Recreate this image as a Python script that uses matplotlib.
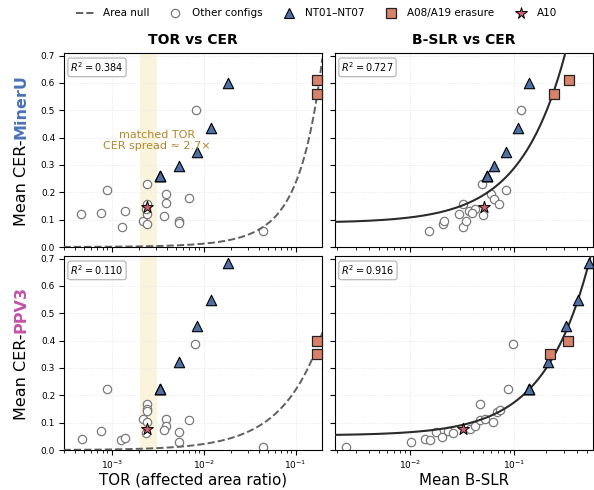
import numpy as np
import matplotlib
matplotlib.use("Agg")
from matplotlib import pyplot as plt
from matplotlib.lines import Line2D

# ---- data ----
# other configs, MinerU
oth_tor_mu = [4.7e-4, 7.6e-4, 8.9e-4, 1.38e-3, 1.29e-3, 2.21e-3, 2.4e-3, 2.4e-3, 2.4e-3,
              2.4e-3, 2.35e-3, 3.87e-3, 3.87e-3, 3.7e-3, 5.4e-3, 5.4e-3, 7.0e-3, 8.2e-3, 0.0438]
oth_cer_tor_mu = [0.122, 0.124, 0.209, 0.131, 0.073, 0.094, 0.229, 0.158, 0.119,
                  0.085, 0.14, 0.194, 0.16, 0.112, 0.094, 0.086, 0.18, 0.499, 0.058]
oth_bslr_mu = [0.0151, 0.0206, 0.0213, 0.0318, 0.0297, 0.032, 0.0344, 0.0368, 0.0414,
               0.039, 0.0487, 0.050, 0.0595, 0.064, 0.0705, 0.083, 0.1167]
oth_cer_bslr_mu = [0.058, 0.085, 0.094, 0.073, 0.119, 0.158, 0.094, 0.131, 0.14,
                   0.124, 0.229, 0.116, 0.192, 0.177, 0.158, 0.21, 0.499]

# other configs, PPV3
oth_tor_pp = [4.72e-4, 7.6e-4, 8.9e-4, 1.27e-3, 1.38e-3, 2.21e-3, 2.4e-3, 2.4e-3, 2.4e-3,
              2.42e-3, 2.38e-3, 3.87e-3, 3.87e-3, 3.7e-3, 5.4e-3, 5.4e-3, 7.0e-3, 8.1e-3, 0.0438]
oth_cer_tor_pp = [0.039, 0.07, 0.224, 0.037, 0.045, 0.112, 0.167, 0.149, 0.143,
                  0.104, 0.061, 0.112, 0.089, 0.073, 0.065, 0.029, 0.109, 0.386, 0.01]
oth_bslr_pp = [2.44e-3, 0.0101, 0.0138, 0.0156, 0.0178, 0.020, 0.023, 0.0259, 0.0375,
               0.0422, 0.0471, 0.0471, 0.0523, 0.0628, 0.0676, 0.0733, 0.0862, 0.0978]
oth_cer_bslr_pp = [0.01, 0.029, 0.039, 0.037, 0.065, 0.046, 0.07, 0.061, 0.076,
                   0.089, 0.169, 0.11, 0.112, 0.104, 0.139, 0.145, 0.224, 0.386]

# NT01-NT07
nt_tor = [3.35e-3, 3.35e-3, 3.35e-3, 5.4e-3, 8.4e-3, 0.0119, 0.0185]
nt_cer_mu = [0.258, 0.258, 0.258, 0.295, 0.348, 0.436, 0.60]
nt_cer_pp = [0.222, 0.222, 0.222, 0.321, 0.454, 0.55, 0.682]
nt_bslr_mu = [0.055, 0.055, 0.055, 0.0636, 0.083, 0.107, 0.138]
nt_bslr_pp = [0.139, 0.139, 0.139, 0.209, 0.312, 0.406, 0.515]

# A08/A19 erasure
er_tor = [0.169, 0.169]
er_cer_mu = [0.611, 0.56]
er_cer_pp = [0.40, 0.351]
er_bslr_mu = [0.332, 0.242]
er_bslr_pp = [0.328, 0.219]

# A10
a10_tor = [2.4e-3]
a10_cer_mu = [0.146]
a10_cer_pp = [0.077]
a10_bslr_mu = [0.051]
a10_bslr_pp = [0.0318]

# fitted curves: area null y = a*x + b*x^2, B-SLR fit y = c0 + c1*x
null_mu = (1.1, 12.5)
null_pp = (2.2, 0.0)
fit_mu = (0.088, 2.02)
fit_pp = (0.053, 1.22)
r2 = [["0.384", "0.727"], ["0.110", "0.916"]]

band = (2.03e-3, 3.12e-3)

C_NT = '#4d70a6'
C_ER = '#d8826a'
C_A10 = '#d1606e'
C_MU = '#4a72b8'
C_PP = '#c254aa'
C_ANN = '#b5852b'

plt.rcParams['font.family'] = 'DejaVu Sans'

fig, axes = plt.subplots(2, 2, figsize=(5.94, 4.9), dpi=100, sharex='col', sharey=True)
fig.subplots_adjust(left=0.107, right=0.9988, bottom=0.0816, top=0.8912,
                    wspace=0.047, hspace=0.048)

rows = [
    (oth_tor_mu, oth_cer_tor_mu, oth_bslr_mu, oth_cer_bslr_mu, nt_cer_mu, nt_bslr_mu,
     er_cer_mu, er_bslr_mu, a10_cer_mu, a10_bslr_mu, null_mu, fit_mu),
    (oth_tor_pp, oth_cer_tor_pp, oth_bslr_pp, oth_cer_bslr_pp, nt_cer_pp, nt_bslr_pp,
     er_cer_pp, er_bslr_pp, a10_cer_pp, a10_bslr_pp, null_pp, fit_pp),
]

xlims = [(3.0e-4, 0.195), (1.88e-3, 0.57)]

for r, row in enumerate(rows):
    (otor, ocer_t, obs, ocer_b, ntc, ntb, erc, erb, a10c, a10b, nul, fit) = row
    for c in range(2):
        ax = axes[r, c]
        ax.set_xscale('log')
        ax.grid(True, which='major', ls=':', lw=0.6, color='#e2e2e2')
        ax.set_axisbelow(True)
        if c == 0:
            xo, yo = otor, ocer_t
            xn, xe, xa = nt_tor, er_tor, a10_tor
            ax.axvspan(band[0], band[1], color='#f7e7b4', alpha=0.45, lw=0, zorder=0)
            xx = np.logspace(np.log10(xlims[0][0]), np.log10(xlims[0][1]), 300)
            ax.plot(xx, nul[0] * xx + nul[1] * xx ** 2, ls='--', color='#606060', lw=1.4, zorder=3)
        else:
            xo, yo = obs, ocer_b
            xn, xe, xa = ntb, erb, a10b
            xx = np.logspace(np.log10(xlims[1][0]), np.log10(xlims[1][1]), 300)
            ax.plot(xx, fit[0] + fit[1] * xx, color='#2b2b2b', lw=1.5, zorder=3)
        ax.scatter(xo, yo, s=36, facecolor='white', edgecolor='#7a7a7a', lw=0.9, zorder=2)
        ax.scatter(xn, ntc, s=56, marker='^', facecolor=C_NT, edgecolor='black', lw=0.8, zorder=4)
        ax.scatter(xe, erc, s=54, marker='s', facecolor=C_ER, edgecolor='#222222', lw=0.9,
                   zorder=4, clip_on=False)
        ax.scatter(xa, a10c, s=80, marker='*', facecolor=C_A10, edgecolor='black', lw=0.7, zorder=5)
        ax.set_xlim(*xlims[c])
        ax.set_ylim(0, 0.708)
        ax.set_yticks(np.arange(0, 0.71, 0.1))
        ax.tick_params(labelsize=6.5, length=3.5, width=0.8, pad=2.5)
        ax.tick_params(which='minor', length=2, width=0.6)
        ax.text(0.026, 0.963, r'$R^2 = %s$' % r2[r][c], transform=ax.transAxes,
                ha='left', va='top', fontsize=7,
                bbox=dict(boxstyle='round,pad=0.25', fc='white', ec='#b0b0b0', lw=0.8))

axes[0, 0].text(3.13e-3, 0.39, "matched TOR\nCER spread \u2248 2.7\u00d7", color=C_ANN,
                fontsize=8, ha='center', va='center', zorder=6)

axes[0, 0].set_title('TOR vs CER', fontsize=10, fontweight='bold', pad=7)
axes[0, 1].set_title('B-SLR vs CER', fontsize=10, fontweight='bold', pad=7)
axes[1, 0].set_xlabel('TOR (affected area ratio)', fontsize=10.8, labelpad=1.5)
axes[1, 1].set_xlabel('Mean B-SLR', fontsize=10.8, labelpad=1.5)

# two-colour y labels
fig.canvas.draw()
rend = fig.canvas.get_renderer()
for r, (name, col) in enumerate([('MinerU', C_MU), ('PPV3', C_PP)]):
    pos = axes[r, 0].get_position()
    yc = (pos.y0 + pos.y1) / 2
    t1 = fig.text(0.036, 0, 'Mean CER-', rotation=90, ha='center', va='bottom', fontsize=11.5)
    t2 = fig.text(0.036, 0, name, rotation=90, ha='center', va='bottom', fontsize=11.5,
                  fontweight='bold', color=col)
    h1 = t1.get_window_extent(rend).height / fig.bbox.height
    h2 = t2.get_window_extent(rend).height / fig.bbox.height
    y0 = yc - (h1 + h2) / 2
    t1.set_y(y0)
    t2.set_y(y0 + h1)

handles = [
    Line2D([], [], ls='--', color='#606060', lw=1.4),
    Line2D([], [], ls='', marker='o', ms=6, mfc='white', mec='#7a7a7a', mew=0.9),
    Line2D([], [], ls='', marker='^', ms=7, mfc=C_NT, mec='black', mew=0.8),
    Line2D([], [], ls='', marker='s', ms=6.5, mfc=C_ER, mec='#222222', mew=0.9),
    Line2D([], [], ls='', marker='*', ms=8.5, mfc=C_A10, mec='black', mew=0.7),
]
labels = ['Area null', 'Other configs', 'NT01\u2013NT07', 'A08/A19 erasure', 'A10']
fig.legend(handles, labels, loc='center', bbox_to_anchor=(0.533, 0.973), ncol=5,
           frameon=False, fontsize=7.5, columnspacing=1.5, handletextpad=0.6)

fig.savefig('out.png', dpi=100)
